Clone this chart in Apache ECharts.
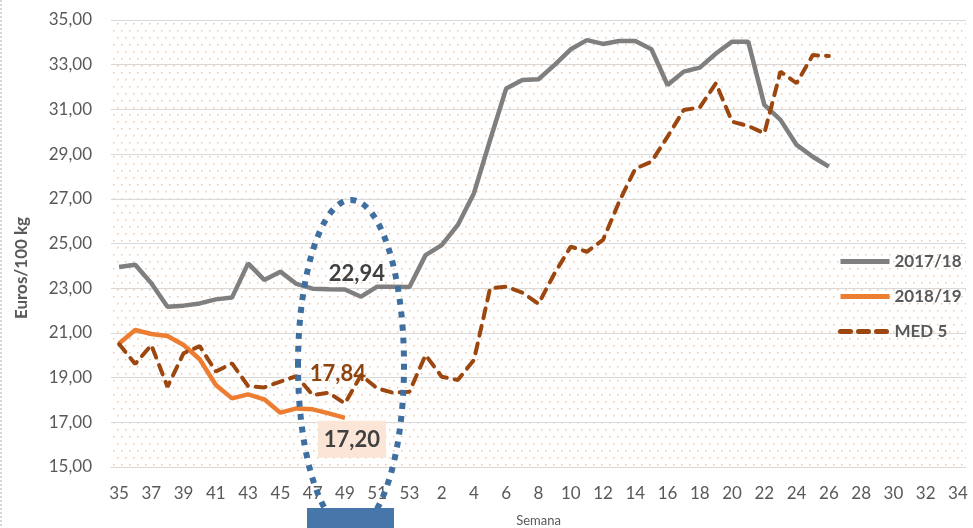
<!DOCTYPE html>
<html>
<head>
<meta charset="utf-8">
<script src="https://cdn.jsdelivr.net/npm/echarts@6/dist/echarts.min.js"></script>
<style>
  html, body { margin: 0; padding: 0; background: #fff; }
  #chart { width: 973px; height: 528px; }
</style>
</head>
<body>
<div id="chart"></div>
<script>
// semanas: campaña 35..53 y luego 1..34
const weeks = ['35','36','37','38','39','40','41','42','43','44','45','46','47','48','49','50','51','52','53',
  '1','2','3','4','5','6','7','8','9','10','11','12','13','14','15','16','17','18','19','20',
  '21','22','23','24','25','26','27','28','29','30','31','32','33','34'];

const serie2017 = [23.95, 24.05, 23.22, 22.17, 22.22, 22.32, 22.50, 22.58, 24.11, 23.37, 23.74, 23.19,
  22.98, 22.95, 22.94, 22.62, 23.07, 23.07, 23.05, 24.48, 24.93, 25.83, 27.25, 29.63, 31.94, 32.32,
  32.35, 32.99, 33.69, 34.10, 33.93, 34.06, 34.06, 33.69, 32.09, 32.69, 32.87, 33.50, 34.03, 34.03,
  31.20, 30.53, 29.41, 28.88, 28.44];

const serie2018 = [20.53, 21.13, 20.95, 20.86, 20.46, 19.82, 18.67, 18.07, 18.25, 18.03, 17.43, 17.62,
  17.58, 17.40, 17.20];

const med5 = [20.50, 19.61, 20.46, 18.59, 20.09, 20.41, 19.27, 19.64, 18.62, 18.56, 18.82, 19.07,
  18.22, 18.32, 17.84, 19.11, 18.52, 18.32, 18.37, 20.01, 19.04, 18.89, 19.79, 23.00, 23.07, 22.80,
  22.30, 23.67, 24.86, 24.63, 25.16, 26.87, 28.35, 28.66, 29.78, 30.97, 31.09, 32.17, 30.45, 30.26,
  29.93, 32.69, 32.17, 33.43, 33.39];

const names = ['2017/18', '2018/19', 'MED 5'];
const labelIdx = 14; // semana 49

const coma = v => v.toFixed(2).replace('.', ',');
const FONT = 'Lato, "Open Sans", sans-serif';
const GREY = '#595959';

// fondo punteado del área de trazado
const tile = document.createElement('canvas');
tile.width = 8; tile.height = 14;
const tctx = tile.getContext('2d');
tctx.fillStyle = '#f6c6a3';
tctx.fillRect(1, 2, 1.5, 1.5);
tctx.fillRect(5, 9, 1.5, 1.5);

// solo el punto de la semana 49 lleva símbolo (invisible) para colgar la etiqueta
function withLabel(arr, label) {
  return arr.map((v, i) => i === labelIdx
    ? { value: v, symbol: 'circle', symbolSize: 0, label: Object.assign({ show: true }, label) }
    : v);
}

let myChart = echarts.init(document.getElementById('chart'));
myChart.setOption({
  animation: false,
  backgroundColor: '#fff',
  textStyle: { fontFamily: FONT },
  grid: {
    left: 111, right: 7, top: 20, bottom: 61,
    outerBoundsMode: 'none',
    show: true, borderWidth: 0,
    backgroundColor: { image: tile, repeat: 'repeat' }
  },
  legend: {
    orient: 'vertical',
    left: 838, top: 253,
    itemWidth: 49, itemHeight: 14, itemGap: 18,
    padding: 0,
    data: names,
    itemStyle: { opacity: 0 },
    lineStyle: { width: 5 },
    textStyle: { color: GREY, fontSize: 17, fontWeight: 'bold', fontFamily: FONT }
  },
  xAxis: {
    type: 'category',
    data: weeks,
    boundaryGap: true,
    axisTick: { show: false },
    axisLine: { lineStyle: { color: '#d9d9d9', width: 1 } },
    axisLabel: { interval: 1, color: GREY, fontSize: 17, margin: 18, fontFamily: FONT },
    name: 'Semana',
    nameLocation: 'middle',
    nameGap: 47,
    nameTextStyle: { color: GREY, fontSize: 13, fontFamily: FONT }
  },
  yAxis: {
    type: 'value',
    min: 15, max: 35, interval: 2,
    axisLine: { show: false },
    axisTick: { show: false },
    splitLine: { lineStyle: { color: '#d9d9d9', width: 1 } },
    axisLabel: { formatter: coma, color: GREY, fontSize: 17, margin: 19, fontFamily: FONT }
  },
  series: [
    {
      name: names[0],
      type: 'line',
      data: withLabel(serie2017, {
        position: 'top', offset: [12, 0],
        formatter: p => coma(p.value),
        color: '#404040', fontSize: 22, fontWeight: 'bold', fontFamily: FONT
      }),
      symbol: 'none', showSymbol: true, showAllSymbol: true,
      lineStyle: { color: '#7f7f7f', width: 4.5 },
      itemStyle: { color: '#7f7f7f' }
    },
    {
      name: names[1],
      type: 'line',
      data: withLabel(serie2018, {
        position: 'bottom', offset: [7, -2],
        formatter: p => coma(p.value),
        color: '#404040', fontSize: 22, fontWeight: 'bold', fontFamily: FONT,
        backgroundColor: '#fbe5d6', padding: [8, 6, 7, 6]
      }),
      symbol: 'none', showSymbol: true, showAllSymbol: true,
      lineStyle: { color: '#ed7d31', width: 4.5 },
      itemStyle: { color: '#ed7d31' }
    },
    {
      name: names[2],
      type: 'line',
      data: withLabel(med5, {
        position: 'top', offset: [-7, -14],
        formatter: p => coma(p.value),
        color: '#8f430c', fontSize: 22, fontWeight: 'bold', fontFamily: FONT
      }),
      symbol: 'none', showSymbol: true, showAllSymbol: true,
      lineStyle: { color: '#9c4710', width: 4, type: [10, 8], cap: 'round' },
      itemStyle: { color: '#9c4710' }
    }
  ],
  graphic: [
    {
      type: 'line', z: 50,
      shape: { x1: 1, y1: 0, x2: 1, y2: 528 },
      style: { stroke: '#b0b0b0', lineWidth: 1, lineDash: [2, 2] }
    },
    {
      type: 'text', z: 50,
      x: 22, y: 268, rotation: Math.PI / 2,
      style: {
        text: 'Euros/100 kg', fill: GREY, fontSize: 17, fontWeight: 'bold', fontFamily: FONT,
        align: 'center', verticalAlign: 'middle'
      }
    },
    {
      type: 'ellipse', z: 100,
      shape: { cx: 351, cy: 365, rx: 53, ry: 165 },
      style: { fill: null, stroke: '#3f6fa0', lineWidth: 6, lineDash: [6, 7] }
    },
    {
      type: 'rect', z: 110,
      shape: { x: 307, y: 508, width: 87, height: 22 },
      style: { fill: '#4676aa' }
    }
  ]
});
</script>
</body>
</html>
